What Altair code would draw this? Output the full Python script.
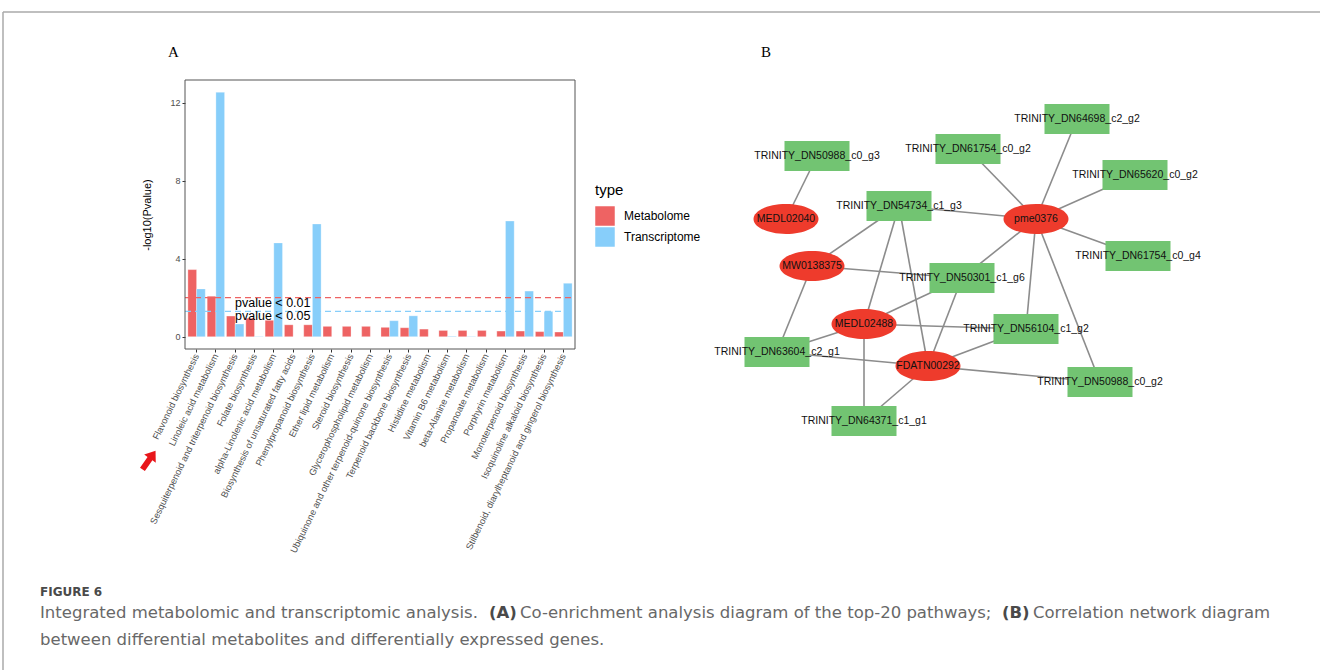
import altair as alt
import pandas as pd

# ---------------- Panel A data ----------------
categories = [
    "Flavonoid biosynthesis",
    "Linoleic acid metabolism",
    "Sesquiterpenoid and triterpenoid biosynthesis",
    "Folate biosynthesis",
    "alpha-Linolenic acid metabolism",
    "Biosynthesis of unsaturated fatty acids",
    "Phenylpropanoid biosynthesis",
    "Ether lipid metabolism",
    "Steroid biosynthesis",
    "Glycerophospholipid metabolism",
    "Ubiquinone and other terpenoid-quinone biosynthesis",
    "Terpenoid backbone biosynthesis",
    "Histidine metabolism",
    "Vitamin B6 metabolism",
    "beta-Alanine metabolism",
    "Propanoate metabolism",
    "Porphyrin metabolism",
    "Monoterpenoid biosynthesis",
    "Isoquinoline alkaloid biosynthesis",
    "Stilbenoid, diarylheptanoid and gingerol biosynthesis",
]
metabolome = [3.44, 2.08, 1.06, 0.95, 0.84, 0.61, 0.61, 0.53, 0.53, 0.53,
              0.48, 0.46, 0.39, 0.32, 0.32, 0.32, 0.29, 0.29, 0.26, 0.24]
transcriptome = [2.45, 12.53, 0.65, 0.02, 4.81, 0.0, 5.78, 0.0, 0.0, 0.0,
                 0.82, 1.07, 0.0, 0.03, 0.02, 0.0, 5.93, 2.34, 1.30, 2.74]
types = ["Metabolome", "Transcriptome"]
type_colors = ["#EE6363", "#87CEFA"]
y_ticks = [0, 4, 8, 12]
thresholds = [2.0, 1.301]
threshold_labels = ["pvalue < 0.01", "pvalue < 0.05"]
threshold_colors = ["#EE6363", "#87CEFA"]

# ---------------- Panel B data ----------------
node_names = [
    "TRINITY_DN50988_c0_g3", "TRINITY_DN61754_c0_g2", "TRINITY_DN64698_c2_g2",
    "TRINITY_DN65620_c0_g2", "TRINITY_DN54734_c1_g3", "MEDL02040", "pme0376",
    "TRINITY_DN61754_c0_g4", "MW0138375", "TRINITY_DN50301_c1_g6", "MEDL02488",
    "TRINITY_DN56104_c1_g2", "TRINITY_DN63604_c2_g1", "FDATN00292",
    "TRINITY_DN50988_c0_g2", "TRINITY_DN64371_c1_g1",
]
node_kind = ["gene", "gene", "gene", "gene", "gene", "metabolite", "metabolite",
             "gene", "metabolite", "gene", "metabolite", "gene", "gene",
             "metabolite", "gene", "gene"]
node_x = [77, 228, 337, 395, 159, 46, 296, 398, 72, 222, 124, 286, 37, 188, 360, 124]
node_y = [56, 49, 19, 75, 106, 119, 119, 156, 166, 178, 224, 229, 252, 266, 282, 321]
edge_from = [
    "TRINITY_DN50988_c0_g3", "TRINITY_DN61754_c0_g2", "TRINITY_DN64698_c2_g2",
    "TRINITY_DN65620_c0_g2", "TRINITY_DN54734_c1_g3", "TRINITY_DN61754_c0_g4",
    "pme0376", "pme0376", "pme0376",
    "TRINITY_DN54734_c1_g3", "TRINITY_DN54734_c1_g3", "TRINITY_DN54734_c1_g3",
    "MW0138375", "MW0138375",
    "TRINITY_DN50301_c1_g6", "TRINITY_DN50301_c1_g6",
    "MEDL02488", "MEDL02488", "MEDL02488",
    "FDATN00292", "FDATN00292", "FDATN00292", "FDATN00292",
]
edge_to = [
    "MEDL02040", "pme0376", "pme0376",
    "pme0376", "pme0376", "pme0376",
    "TRINITY_DN50301_c1_g6", "TRINITY_DN56104_c1_g2", "TRINITY_DN50988_c0_g2",
    "MW0138375", "MEDL02488", "FDATN00292",
    "TRINITY_DN50301_c1_g6", "TRINITY_DN63604_c2_g1",
    "MEDL02488", "FDATN00292",
    "TRINITY_DN56104_c1_g2", "TRINITY_DN63604_c2_g1", "TRINITY_DN64371_c1_g1",
    "TRINITY_DN56104_c1_g2", "TRINITY_DN63604_c2_g1", "TRINITY_DN50988_c0_g2",
    "TRINITY_DN64371_c1_g1",
]

# ---------------- tables ----------------
bars = pd.DataFrame({
    "pathway": categories * 2,
    "type": [types[0]] * len(categories) + [types[1]] * len(categories),
    "value": metabolome + transcriptome,
})
thr = pd.DataFrame({"y": thresholds, "label": threshold_labels, "color": threshold_colors,
                    "pathway": [categories[4]] * 2})
nodes = pd.DataFrame({"name": node_names, "kind": node_kind, "nx": node_x, "ny": node_y})
pos = {n: (x, y) for n, x, y in zip(node_names, node_x, node_y)}
edges = pd.DataFrame({
    "x": [pos[a][0] for a in edge_from], "y": [pos[a][1] for a in edge_from],
    "x2": [pos[b][0] for b in edge_to], "y2": [pos[b][1] for b in edge_to],
})
one = pd.DataFrame({"d": [0]})

FONT = "Liberation Sans"

# scales for panel A (pixel ranges inside one 1320x670 canvas)
xA = alt.Scale(domain=categories, range=[185, 575], paddingInner=0, paddingOuter=0.1)
yA = alt.Scale(domain=[-0.63, 13.16], range=[349, 80], nice=False, zero=False)

border = alt.Chart(one).mark_rect(filled=False, stroke="#555555", strokeWidth=1).encode(
    x=alt.value(185), x2=alt.value(575), y=alt.value(80), y2=alt.value(349))

bar_layer = alt.Chart(bars).mark_bar(stroke="white", strokeWidth=0.3).encode(
    x=alt.X("pathway:N", scale=xA, sort=categories, title=None,
            axis=alt.Axis(offset=-321, labelAngle=296, labelAlign="right",
                          labelBaseline="middle", labelFontSize=9.3, labelFont=FONT,
                          labelColor="#4D4D4D", tickSize=3, tickColor="#333333",
                          labelPadding=2, domain=False, grid=False, labelLimit=400)),
    xOffset=alt.XOffset("type:N", scale=alt.Scale(domain=types, paddingInner=0, paddingOuter=0.111)),
    y=alt.Y("value:Q", scale=yA,
            axis=alt.Axis(offset=-185, values=y_ticks, labelFontSize=9, labelFont=FONT,
                          labelColor="#4D4D4D", tickSize=3, tickColor="#333333",
                          domain=False, grid=False, title="-log10(Pvalue)",
                          titleFontSize=11, titleFont=FONT, titleFontWeight="normal",
                          titleColor="#000000", titlePadding=17, labelPadding=2)),
    y2=alt.datum(0),
    color=alt.Color("type:N", scale=alt.Scale(domain=types, range=type_colors),
                    legend=alt.Legend(title="type", orient="none", legendX=595, legendY=183,
                                      titleFontSize=15, titleFontWeight="normal", titleFont=FONT,
                                      titleColor="#000000", labelFontSize=12, labelFont=FONT,
                                      labelColor="#000000", symbolType="square",
                                      symbolSize=380, symbolStrokeWidth=0, symbolOpacity=1,
                                      rowPadding=1, labelOffset=9, titlePadding=8)),
)

thr_lines = alt.Chart(thr).mark_rule(strokeDash=[6, 4], strokeWidth=1.3).encode(
    x=alt.value(185), x2=alt.value(575),
    y=alt.Y("y:Q", scale=yA, axis=None),
    color=alt.Color("color:N", scale=None),
)
thr_text = alt.Chart(thr).mark_text(fontSize=12.5, font=FONT, color="#000000", dy=5,
                                    baseline="middle").encode(
    x=alt.X("pathway:N", scale=xA, axis=None),
    y=alt.Y("y:Q", scale=yA, axis=None),
    text="label:N",
)

# ---------------- Panel B ----------------
xB = alt.Scale(domain=[0, 440], range=[740, 1180], nice=False, zero=False)
yB = alt.Scale(domain=[0, 340], range=[100, 440], nice=False, zero=False)
rect_path = "M-1,-0.4615H1V0.4615H-1Z"
ell_path = "M-1,0A1,0.4615 0 1,0 1,0A1,0.4615 0 1,0 -1,0Z"

edge_layer = alt.Chart(edges).mark_rule(color="#8C8C8C", strokeWidth=1.6).encode(
    x=alt.X("x:Q", scale=xB, axis=None), y=alt.Y("y:Q", scale=yB, axis=None),
    x2="x2:Q", y2="y2:Q")
node_layer = alt.Chart(nodes).mark_point(filled=True, opacity=1, size=4225).encode(
    x=alt.X("nx:Q", scale=xB, axis=None), y=alt.Y("ny:Q", scale=yB, axis=None),
    shape=alt.Shape("kind:N", scale=alt.Scale(domain=["gene", "metabolite"],
                                              range=[rect_path, ell_path]), legend=None),
    color=alt.Color("kind:N", scale=alt.Scale(domain=["gene", "metabolite"],
                                              range=["#72C472", "#EE3B2C"]), legend=None),
)
label_layer = alt.Chart(nodes).mark_text(fontSize=10.5, font=FONT, color="#111111").encode(
    x=alt.X("nx:Q", scale=xB, axis=None), y=alt.Y("ny:Q", scale=yB, axis=None),
    text="name:N")

# ---------------- annotations ----------------
def txt(s, x, y, **kw):
    return alt.Chart(one).mark_text(text=s, align="left", baseline="middle", **kw).encode(
        x=alt.value(x), y=alt.value(y))

frame_top = alt.Chart(one).mark_rule(color="#AAAAAA", strokeWidth=1.5).encode(
    x=alt.value(3), x2=alt.value(1320), y=alt.value(12))
frame_left = alt.Chart(one).mark_rule(color="#AAAAAA", strokeWidth=1.5).encode(
    x=alt.value(3), y=alt.value(12), y2=alt.value(670))

panelA = txt("A", 168, 52, font="Liberation Serif", fontSize=15, color="#000000")
panelB = txt("B", 761, 52, font="Liberation Serif", fontSize=15, color="#000000")

arrow_path = "M0,-1L0.62,-0.15L0.26,-0.15L0.26,1L-0.26,1L-0.26,-0.15L-0.62,-0.15Z"
arrow = alt.Chart(one).mark_point(shape=arrow_path, filled=True, opacity=1, color="#E8161B",
                                  size=520, angle=35).encode(x=alt.value(149), y=alt.value(460))

CF = "DejaVu Sans"
CC = "#686868"
CB = "#4A4A4A"
cap = [
    txt("FIGURE 6", 40, 592, font=CF, fontSize=12, fontWeight="bold", color="#4A4A4A"),
    txt("Integrated metabolomic and transcriptomic analysis.", 40, 613, font=CF, fontSize=16.5, color=CC),
    txt("(A)", 489, 613, font=CF, fontSize=16.5, fontWeight="bold", color=CB),
    txt("Co-enrichment analysis diagram of the top-20 pathways;", 520, 613, font=CF, fontSize=16.5, color=CC),
    txt("(B)", 1002, 613, font=CF, fontSize=16.5, fontWeight="bold", color=CB),
    txt("Correlation network diagram", 1033, 613, font=CF, fontSize=16.5, color=CC),
    txt("between differential metabolites and differentially expressed genes.", 40, 640, font=CF, fontSize=16.5, color=CC),
]

chart = alt.layer(
    frame_top, frame_left, panelA, panelB,
    bar_layer, thr_lines, thr_text, border,
    edge_layer, node_layer, label_layer, arrow, *cap,
).resolve_scale(
    x="independent", y="independent", color="independent", shape="independent"
).resolve_axis(x="independent", y="independent").resolve_legend(color="independent").properties(
    width=1320, height=670, padding=0, autosize=alt.AutoSizeParams(type="none"),
    background="white",
).configure_view(stroke=None)

chart.save("out.html", embed_options={"renderer": "svg", "actions": False})
